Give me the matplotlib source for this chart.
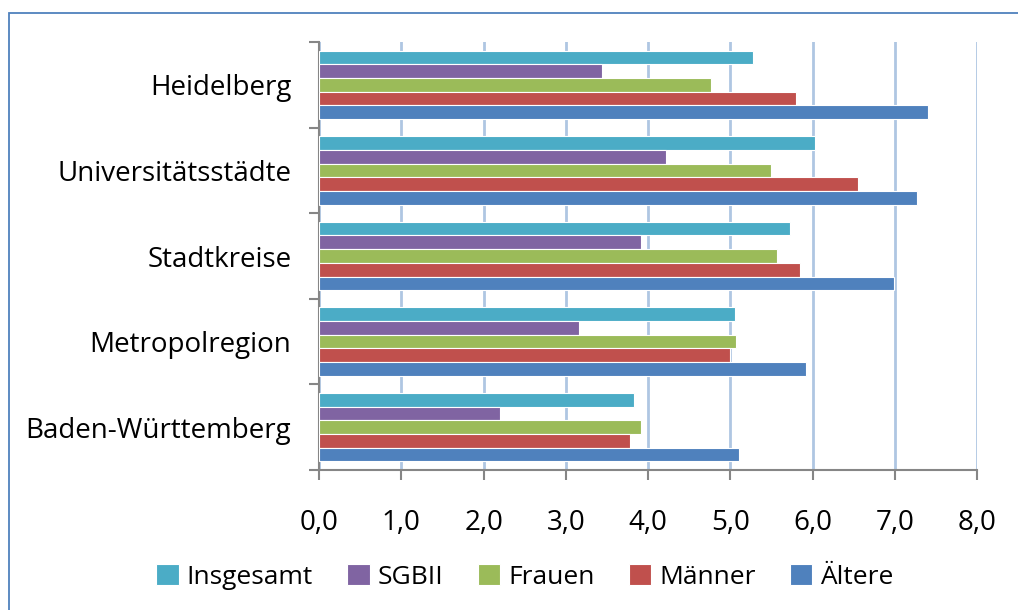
import numpy as np
import matplotlib.pyplot as plt
from matplotlib.patches import Rectangle

# -----------------------------
# Data
# -----------------------------
regions = ["Baden-Württemberg", "Metropolregion", "Stadtkreise",
           "Universitätsstädte", "Heidelberg"]

series_names = ["Insgesamt", "SGBII", "Frauen", "Männer", "Ältere"]

insgesamt = [3.83, 5.05, 5.72, 6.03, 5.28]
sgbii = [2.20, 3.16, 3.91, 4.22, 3.44]
frauen = [3.91, 5.07, 5.56, 5.49, 4.76]
maenner = [3.78, 4.99, 5.85, 6.55, 5.80]
aeltere = [5.10, 5.92, 6.99, 7.27, 7.40]

colors = ["#4BACC6", "#8064A2", "#9BBB59", "#C0504D", "#4F81BD"]

tick_values = [0, 1, 2, 3, 4, 5, 6, 7, 8]
tick_labels = ["0,0", "1,0", "2,0", "3,0", "4,0", "5,0", "6,0", "7,0", "8,0"]

# -----------------------------
# Figure
# -----------------------------
plt.rcParams["font.family"] = ["Open Sans", "DejaVu Sans"]

fig = plt.figure(figsize=(10.18, 6.10), dpi=100)
ax = fig.add_axes([0.3134, 0.2295, 0.6466, 0.7016])

# chart border (cropped on the right and bottom like the original)
fig.patches.append(Rectangle((8.5 / 1018, -0.05), 1.1, 1 - 13 / 610 + 0.05,
                             transform=fig.transFigure, fill=False,
                             edgecolor="#4F81BD", linewidth=1.3))

values = [insgesamt, sgbii, frauen, maenner, aeltere]
y = np.arange(len(regions))
bar_h = 0.16
for i, (name, vals, c) in enumerate(zip(series_names, values, colors)):
    offset = (2 - i) * bar_h
    ax.barh(y + offset, vals, height=bar_h, color=c, edgecolor="white",
            linewidth=0.8, label=name, zorder=3)

ax.set_xlim(0, 8)
ax.set_ylim(-0.5, len(regions) - 0.5)

# vertical grid lines
ax.set_xticks(tick_values)
ax.set_xticklabels(tick_labels, fontsize=20)
ax.xaxis.grid(True, color="#AFC6E2", linewidth=2, zorder=0)
ax.set_axisbelow(True)

# category ticks sit on group boundaries, labels at centres
ax.set_yticks(np.arange(-0.5, len(regions), 1.0))
ax.set_yticklabels([])
ax.set_yticks(y, minor=True)
ax.set_yticklabels(regions, minor=True, fontsize=20)
ax.tick_params(axis="y", which="minor", length=0, pad=20)
ax.tick_params(axis="y", which="major", length=7, width=1.5, color="#868686")
ax.tick_params(axis="x", length=7, width=1.5, color="#868686", pad=21)

for s in ["top", "right"]:
    ax.spines[s].set_visible(False)
ax.spines["left"].set_color("#868686")
ax.spines["left"].set_linewidth(1.5)
ax.spines["bottom"].set_color("#868686")
ax.spines["bottom"].set_linewidth(1.5)

ax.legend(loc="center", bbox_to_anchor=(525 / 1018, 1 - 577 / 610),
          bbox_transform=fig.transFigure, ncol=5, frameon=False,
          fontsize=19, handlelength=0.85, handleheight=0.85,
          handletextpad=0.3, columnspacing=1.3)

fig.savefig("out.png", dpi=100)
